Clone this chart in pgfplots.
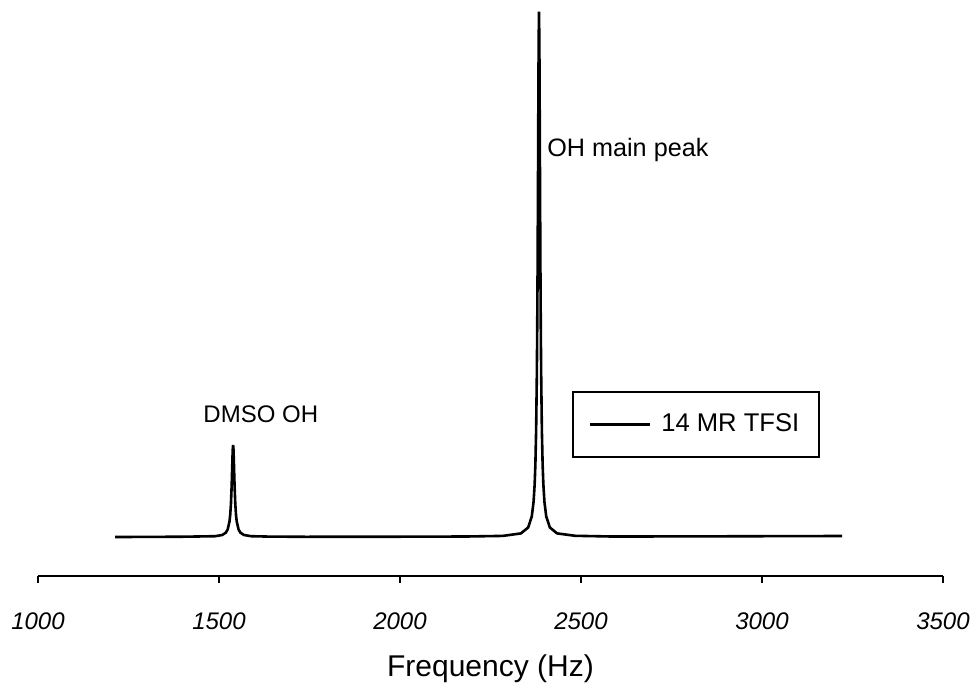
\documentclass[border=0pt]{standalone}
\usepackage{pgfplots}
\pgfplotsset{compat=1.18}
\usepackage{fontspec}
\setmainfont{Liberation Sans}
\begin{document}
\begin{tikzpicture}
\useasboundingbox (-19pt,-55.5pt) rectangle (469pt,288pt);
\begin{axis}[
  at={(0pt,0pt)}, anchor=south west,
  scale only axis,
  width=452.5pt, height=288pt,
  xmin=1000, xmax=3500,
  ymin=-39, ymax=537,
  axis x line=bottom,
  axis y line=none,
  x axis line style={-, line width=1.3pt},
  xtick={1000,1500,2000,2500,3000,3500},
  xticklabels={1000,1500,2000,2500,3000,3500},
  tick align=outside,
  major tick length=3.5pt,
  every tick/.style={line width=1.1pt, black},
  xticklabel style={anchor=base, yshift=-23pt, font=\itshape\fontsize{12}{14}\selectfont},
  xlabel={Frequency (Hz)},
  xlabel style={anchor=base, at={(rel axis cs:0.5,0)}, yshift=-50pt, font=\fontsize{15}{17}\selectfont},
  clip=false,
  legend style={at={(267pt,92.5pt)}, anchor=north west, draw=black, line width=0.9pt,
    inner xsep=8pt, inner ysep=9pt, font=\fontsize{12.8}{15}\selectfont},
  legend image code/.code={\draw[#1, line width=1.2pt] (0pt,0pt) -- (30pt,0pt);},
]
\addplot[black, line width=1.3pt] table {
X Y
1213 0
1300 0.1
1400 0.3
1439 0.5
1489 0.8
1509 2.0
1519 4.4
1524 7.6
1529 15.5
1531 22.1
1533 33.1
1535 51.4
1536 63.7
1537 76.8
1538 87.7
1539 92
1540 87.7
1541 76.8
1542 63.7
1543 51.4
1545 33.1
1547 22.1
1549 15.5
1554 7.6
1559 4.4
1569 2.0
1589 0.8
1639 0.4
1739 0.2
2000 0.3
2184 0.5
2284 1.1
2334 3.6
2354 9.5
2364 20.5
2369 35.2
2372 52.8
2374 72.7
2376 105.3
2378 161.8
2379 205.2
2380 262.8
2381 336.3
2382 420.3
2383 494.4
2384 525.3
2385 494.4
2386 420.3
2387 336.3
2388 262.8
2389 205.2
2390 161.8
2392 105.3
2394 72.7
2396 52.8
2399 35.2
2404 20.5
2414 9.5
2434 3.6
2484 1.2
2584 0.5
2800 0.6
3000 0.8
3221 1.0
};
\addlegendentry{\hspace{3pt}14 MR TFSI\hspace{12pt}}
\node[anchor=base west, inner sep=0pt, font=\fontsize{12}{14}\selectfont] at (axis cs:1456,115) {DMSO OH};
\node[anchor=base west, inner sep=0pt, font=\fontsize{12.6}{14}\selectfont] at (axis cs:2406,381) {OH main peak};
\end{axis}
\end{tikzpicture}
\end{document}
